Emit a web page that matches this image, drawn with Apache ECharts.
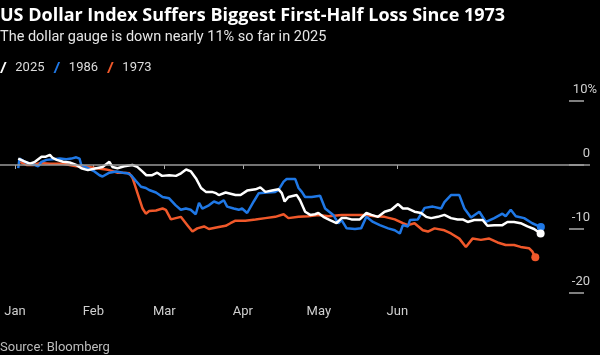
<!DOCTYPE html>
<html><head><meta charset="utf-8">
<script src="https://cdn.jsdelivr.net/npm/echarts@6/dist/echarts.min.js"></script>
<style>html,body{margin:0;padding:0;background:#000;}#c{width:600px;height:355px;}</style>
</head><body><div id="c"></div>
<script>
// x = days since Jan 1, y = % change
const monthTicks = [0, 31, 59, 90, 120, 151];
const monthLabels = ['Jan', 'Feb', 'Mar', 'Apr', 'May', 'Jun'];
const yTicks = [-20, -10, 0, 10];

const days2025 = [1.3,3.5,5.9,7.9,10.5,12.2,13.8,14.9,16.5,19.0,21.6,24.2,26.2,28.8,32.1,34.6,37.3,38.5,40.5,43.2,46.4,48.3,50.3,51.9,54.2,56.2,58.1,60.9,63.6,65.6,67.6,69.5,71.5,73.5,75.4,77.8,79.4,80.5,83.2,87.1,89.1,91.7,95.0,96.9,98.9,101.5,104.1,105.4,106.5,108.0,111.3,112.6,114.6,116.6,118.5,119.8,121.8,124.4,127.0,129.0,131.0,132.9,136.2,138.8,140.8,143.4,146.0,148.6,151.3,153.2,155.2,157.8,160.4,162.4,164.4,167.0,169.6,172.2,174.8,176.8,178.8,181.4,184.7,186.6,189.3,192.5,194.5,197.1,199.7,202.4,205.0,207.6];
const vals2025 = [1.0,0.6,0.2,0.5,1.3,1.3,1.6,1.1,0.8,0.5,0.4,0,-0.5,-0.8,-0.5,-0.3,0.5,-0.3,-0.5,-0.2,0,-0.3,-1.0,-1.6,-1.6,-1.2,-1.7,-1.6,-1.7,-1.3,-0.7,-1.0,-2.1,-3.6,-4.2,-4.2,-4.4,-4.7,-4.3,-4.7,-4.7,-4.0,-3.8,-3.5,-4.2,-4.0,-3.8,-4.4,-5.7,-5.0,-4.7,-5.5,-7.3,-7.8,-7.7,-7.5,-8.1,-8.6,-9.1,-8.3,-8.3,-8.5,-8.5,-7.5,-7.8,-8.1,-7.3,-7.0,-6.1,-6.8,-6.8,-7.3,-7.5,-8.1,-8.3,-8.1,-7.8,-8.3,-8.5,-8.5,-8.9,-8.6,-8.6,-9.5,-9.4,-9.4,-8.9,-8.9,-9.1,-9.6,-10.0,-10.7];

const days1986 = [1.3,1.8,3.9,5.9,7.9,9.2,10.5,12.5,15.0,17.7,20.3,22.3,24.2,25.5,26.2,28.8,31.4,33.4,34.6,37.3,40.0,42.6,44.5,45.9,47.8,49.8,51.7,53.0,55.7,58.3,60.9,63.5,65.5,67.5,69.4,71.4,72.7,74.0,76.6,78.6,80.5,82.5,83.8,86.4,88.4,89.7,91.7,94.3,96.3,99.5,102.8,104.1,106.1,107.3,110.7,112.0,113.3,114.6,117.2,120.5,122.5,125.7,127.7,129.0,131.0,134.3,136.7,138.8,141.4,144.1,147.4,150.0,152.0,153.2,155.2,156.0,159.1,161.8,165.0,168.3,169.6,172.2,175.5,177.5,180.1,183.4,186.0,189.3,192.5,193.8,195.8,197.8,201.1,204.3,207.7];
const vals1986 = [-0.5,1.0,0.5,0.2,0,-0.2,0.5,0.8,0.9,1.0,0.9,1.0,1.2,1.0,0,-0.5,-1.0,-1.6,-1.8,-1.2,-1.0,-1.2,-1.3,-1.6,-2.5,-3.4,-3.6,-3.9,-4.3,-5.0,-5.2,-6.3,-7.0,-6.8,-7.0,-7.7,-5.9,-6.8,-6.3,-5.7,-6.0,-5.5,-6.5,-6.8,-7.0,-6.8,-7.5,-5.7,-4.4,-4.3,-4.2,-3.9,-2.6,-2.2,-2.2,-3.6,-4.2,-5.0,-5.0,-4.8,-6.8,-7.8,-9.1,-8.6,-9.9,-10.0,-9.9,-8.1,-8.9,-9.4,-9.9,-10.2,-10.7,-9.4,-9.6,-8.6,-8.5,-6.7,-6.5,-6.8,-5.8,-4.7,-4.7,-6.8,-8.2,-7.3,-8.9,-8.3,-7.6,-8.0,-7.0,-8.0,-8.3,-9.1,-9.7];

const days1973 = [2.0,4.6,7.2,9.8,13.8,19.0,21.6,24.2,27.5,32.1,36.0,37.3,40.6,42.6,45.2,46.5,48.4,50.4,51.7,53.0,55.7,58.3,59.6,61.6,63.5,65.5,68.1,70.1,72.0,74.7,76.6,80.5,83.2,85.1,87.1,91.0,95.0,98.9,102.8,106.1,108.0,112.0,115.9,119.8,123.8,129.0,134.3,138.2,142.1,146.0,150.0,153.2,155.2,157.8,161.1,163.1,165.7,169.6,172.2,175.5,178.1,180.7,184.0,187.3,190.6,193.8,197.1,199.7,203.0,204.3,205.5];
const vals1973 = [0.5,0,0,0.3,0.2,0.2,0,-0.2,-0.2,-0.5,-0.7,-0.8,-1.2,-1.2,-1.3,-2.1,-4.4,-6.8,-7.6,-7.2,-7.1,-6.8,-7.0,-8.5,-8.3,-8.1,-9.4,-10.4,-9.9,-9.6,-10.0,-9.7,-9.5,-9.1,-8.7,-8.7,-8.5,-8.3,-8.1,-7.7,-8.3,-8.1,-8.0,-7.8,-8.0,-7.8,-7.8,-7.8,-8.0,-8.1,-8.5,-9.1,-9.4,-9.1,-10.2,-10.4,-9.9,-10.2,-10.7,-11.5,-12.8,-11.5,-11.7,-11.5,-12.1,-12.5,-12.5,-12.8,-13.0,-13.5,-14.4];

function build(days, vals) {
  return days.map((d, i) => {
    if (i === days.length - 1) return { value: [d, vals[i]], symbol: 'circle', symbolSize: 8 };
    return [d, vals[i]];
  });
}

const WHITE = '#ffffff', BLUE = '#1f78e6', RED = '#f0582a';
const slash = 'path://M0,10 L1.8,10 L6,0 L4.2,0 Z';
const FONT = 'Roboto';

const chart = echarts.init(document.getElementById('c'), null, { renderer: 'canvas' });
chart.setOption({
  backgroundColor: '#000',
  animation: false,
  textStyle: { fontFamily: FONT },
  title: [
    { text: 'US Dollar Index Suffers Biggest First-Half Loss Since 1973', left: 0, top: 7, padding: 0,
      textStyle: { color: '#fff', fontSize: 18, fontWeight: 'bold', fontFamily: 'Open Sans' } },
    { text: 'The dollar gauge is down nearly 11% so far in 2025', left: 0, top: 30, padding: 0,
      textStyle: { color: '#e6e6e6', fontSize: 14.5, fontWeight: 'normal', fontFamily: FONT } },
    { text: 'Source: Bloomberg', left: 0, top: 341, padding: 0,
      textStyle: { color: '#bdbdbd', fontSize: 13, fontWeight: 'normal', fontFamily: FONT } }
  ],
  legend: {
    left: 0, top: 61, padding: 0, itemGap: 9, itemWidth: 8, itemHeight: 11,
    icon: slash,
    data: ['2025', '1986', '1973'],
    textStyle: { color: '#dcdcdc', fontSize: 13, fontFamily: FONT, padding: [0, 0, 0, 3] }
  },
  grid: [
    { left: 0, right: 7, top: 101, bottom: 62 },
    { left: 569, width: 15, top: 101, bottom: 62 }
  ],
  xAxis: [
    {
      type: 'value', gridIndex: 0, min: -5.9, max: 227.1, offset: 2,
      axisLine: { show: false },
      splitLine: { show: false },
      axisTick: { show: true, length: 4, customValues: monthTicks, lineStyle: { color: '#aaa', width: 1 } },
      axisLabel: { customValues: monthTicks, margin: 10, color: '#cfcfcf', fontSize: 13, fontFamily: FONT,
        formatter: v => monthLabels[monthTicks.indexOf(v)] || '' }
    },
    { type: 'value', gridIndex: 1, min: 0, max: 1, show: false }
  ],
  yAxis: [
    {
      type: 'value', gridIndex: 0, position: 'right', min: -20, max: 10, interval: 10,
      axisLine: { show: false },
      splitLine: { show: false },
      axisTick: { show: false },
      axisLabel: {
        margin: 7, align: 'right', verticalAlign: 'bottom', color: '#cfcfcf', fontSize: 13, fontFamily: FONT,
        formatter: v => yTicks.indexOf(v) < 0 ? '' : (v === 10 ? '{m|10%}' : '{n|' + v + '}'),
        rich: {
          n: { color: '#cfcfcf', fontSize: 13, fontFamily: FONT, padding: [0, 7, 5, 0] },
          m: { color: '#cfcfcf', fontSize: 13, fontFamily: FONT, padding: [0, 0, 5, 0] }
        }
      }
    },
    {
      type: 'value', gridIndex: 1, min: -20, max: 10, interval: 10,
      axisLine: { show: false }, axisTick: { show: false }, axisLabel: { show: false },
      splitLine: { show: true, lineStyle: { color: '#aaa', width: 1.5 } }
    }
  ],
  series: [
    { name: '1973', type: 'line', data: build(days1973, vals1973), symbol: 'none', showSymbol: true,
      lineStyle: { color: RED, width: 2.5 }, itemStyle: { color: RED },
      markLine: { silent: true, symbol: 'none', label: { show: false },
        lineStyle: { color: '#9a9a9a', type: 'solid', width: 1.5 }, data: [{ yAxis: 0 }] } },
    { name: '1986', type: 'line', data: build(days1986, vals1986), symbol: 'none', showSymbol: true,
      lineStyle: { color: BLUE, width: 2.5 }, itemStyle: { color: BLUE } },
    { name: '2025', type: 'line', data: build(days2025, vals2025), symbol: 'none', showSymbol: true,
      lineStyle: { color: WHITE, width: 2.5 }, itemStyle: { color: WHITE } }
  ]
});
</script></body></html>
